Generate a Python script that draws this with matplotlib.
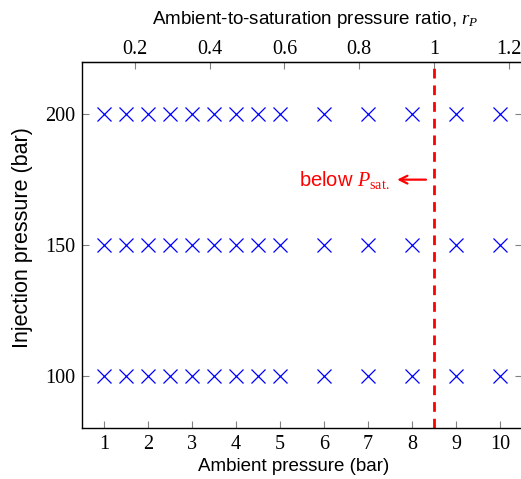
import matplotlib.pyplot as plt
import numpy as np

plt.rcParams['mathtext.fontset'] = 'custom'
plt.rcParams['mathtext.it'] = 'Liberation Serif:italic'
plt.rcParams['mathtext.rm'] = 'Liberation Serif'

# ambient pressures (bar) and injection pressures (bar)
ambient = [1, 1.5, 2, 2.5, 3, 3.5, 4, 4.5, 5, 6, 7, 8, 9, 10]
injection = [100, 150, 200]
p_sat = 8.5
ratio_ticks = [0.2, 0.4, 0.6, 0.8, 1, 1.2]

serif = ['Liberation Serif', 'DejaVu Serif']
sans = ['Liberation Sans', 'DejaVu Sans']

fig = plt.figure(figsize=(5.21, 4.79), dpi=100)
ax = fig.add_axes([82 / 521, 51 / 479, 440 / 521, 366 / 479])

for pinj in injection:
    ax.plot(ambient, [pinj] * len(ambient), linestyle='none', marker='x',
            color='blue', markersize=10, markeredgewidth=0.9)

ax.axvline(p_sat, color='red', linestyle=(0, (3.5, 2.5)), linewidth=2)

ax.annotate('', xy=(7.6, 175), xytext=(8.38, 175),
            arrowprops=dict(arrowstyle='->', color='red', lw=1.6,
                            mutation_scale=14))
ax.text(7.5, 175, r'below $\mathit{P}_{\mathrm{sat.}}$', color='red',
        ha='right', va='center', fontsize=14.5, family=sans)

ax.set_xlim(0.5, 10.5)
ax.set_ylim(80, 220)
ax.set_xticks(range(1, 11))
ax.set_yticks(injection)
ax.tick_params(direction='in', color='gray', length=5, width=0.8,
               top=False, right=True, labelsize=14.5, pad=5)
for lab in ax.get_xticklabels() + ax.get_yticklabels():
    lab.set_family(serif)
ax.set_xlabel('Ambient pressure (bar)', fontsize=13.5, family=sans)
ax.xaxis.set_label_coords(0.48, -0.083)
ax.set_ylabel('Injection pressure (bar)', fontsize=15.5, family=sans)
ax.yaxis.set_label_coords(-0.112, 0.52)

# top axis: ambient-to-saturation ratio
top = ax.secondary_xaxis('top', functions=(lambda x: x / p_sat, lambda r: r * p_sat))
top.set_xticks(ratio_ticks)
top.set_xticklabels(['0.2', '0.4', '0.6', '0.8', '1', '1.2'])
top.tick_params(direction='in', color='gray', length=5, width=0.8,
                labelsize=14.5, pad=2)
for lab in top.get_xticklabels():
    lab.set_family(serif)
fig.text(315 / 521, 1 - 20 / 479,
         r'Ambient-to-saturation pressure ratio, $\mathit{r}_{\mathit{P}}$',
         fontsize=13.5, family=sans, ha='center', va='center')

for s in ax.spines.values():
    s.set_linewidth(1)
ax.spines['right'].set_visible(False)

fig.savefig('out.png', dpi=100)
